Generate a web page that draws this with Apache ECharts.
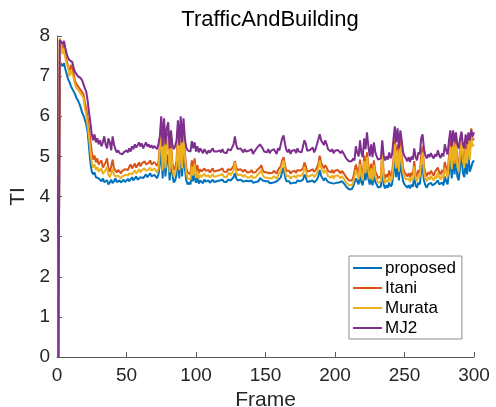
<!DOCTYPE html>
<html>
<head>
<meta charset="utf-8">
<script src="https://cdn.jsdelivr.net/npm/echarts@6/dist/echarts.min.js"></script>
<style>
  html, body { margin: 0; padding: 0; background: #fff; }
  #chart { width: 496px; height: 407px; }
</style>
</head>
<body>
<div id="chart"></div>
<script>
// values per frame, frame 1..300
var proposed = [
  0, 7.35, 7.30, 7.25, 7.32, 7.18, 7.05, 6.92, 6.85, 6.75,
  6.72, 6.62, 6.55, 6.45, 6.40, 6.32, 6.22, 6.10, 6.02, 5.92,
  5.80, 5.62, 5.25, 4.85, 4.62, 4.55, 4.60, 4.48, 4.52, 4.45,
  4.42, 4.38, 4.45, 4.36, 4.32, 4.40, 4.30, 4.35, 4.42, 4.33,
  4.38, 4.45, 4.36, 4.33, 4.40, 4.35, 4.38, 4.42, 4.36, 4.40,
  4.44, 4.38, 4.42, 4.48, 4.40, 4.45, 4.50, 4.42, 4.46, 4.48,
  4.52, 4.46, 4.50, 4.55, 4.48, 4.52, 4.58, 4.50, 4.48, 4.54,
  4.50, 4.46, 4.55, 4.80, 5.20, 4.45, 5.25, 4.50, 4.90, 5.05,
  4.40, 4.85, 4.55, 4.35, 4.40, 4.55, 5.10, 4.45, 5.25, 4.50,
  5.20, 4.70, 4.40, 4.30, 4.35, 4.30, 4.55, 4.38, 4.62, 4.34,
  4.48, 4.32, 4.40, 4.36, 4.33, 4.42, 4.37, 4.35, 4.40, 4.34,
  4.38, 4.42, 4.36, 4.40, 4.38, 4.35, 4.40, 4.38, 4.42, 4.37,
  4.40, 4.36, 4.42, 4.45, 4.40, 4.38, 4.48, 4.58, 4.45, 4.40,
  4.38, 4.42, 4.40, 4.37, 4.41, 4.39, 4.35, 4.38, 4.36, 4.40,
  4.34, 4.38, 4.36, 4.40, 4.38, 4.46, 4.50, 4.40, 4.36, 4.38,
  4.35, 4.38, 4.33, 4.37, 4.34, 4.38, 4.36, 4.32, 4.40, 4.36,
  4.48, 4.62, 4.72, 4.50, 4.38, 4.34, 4.38, 4.32, 4.36, 4.34,
  4.38, 4.34, 4.40, 4.36, 4.38, 4.34, 4.42, 4.55, 4.48, 4.36,
  4.34, 4.38, 4.36, 4.40, 4.35, 4.38, 4.42, 4.50, 4.66, 4.52,
  4.48, 4.40, 4.46, 4.42, 4.36, 4.40, 4.34, 4.38, 4.32, 4.36,
  4.34, 4.38, 4.35, 4.32, 4.38, 4.34, 4.30, 4.25, 4.22, 4.18,
  4.22, 4.18, 4.24, 4.20, 4.45, 4.38, 4.30, 4.56, 4.35, 4.28,
  4.62, 4.40, 4.70, 4.45, 4.30, 4.48, 4.28, 4.55, 4.36, 4.30,
  4.22, 4.18, 4.25, 4.78, 4.30, 4.20, 4.28, 4.22, 4.35, 4.25,
  4.30, 4.55, 5.00, 4.48, 4.85, 4.40, 4.95, 4.60, 4.38, 4.30,
  4.26, 4.22, 4.28, 4.20, 4.30, 4.24, 4.52, 4.28, 4.22, 4.35,
  4.30, 4.62, 4.80, 4.40, 4.28, 4.22, 4.30, 4.26, 4.34, 4.28,
  4.24, 4.32, 4.28, 4.40, 4.30, 4.26, 4.35, 4.28, 4.50, 4.38,
  4.30, 4.62, 4.95, 4.45, 5.05, 4.55, 4.98, 4.50, 4.40, 4.72,
  5.10, 4.60, 4.48, 4.85, 4.55, 5.05, 4.62, 4.58, 4.85, 4.90
];
var itani = [
  0, 7.92, 7.80, 7.62, 7.82, 7.50, 7.38, 7.35, 7.10, 7.28,
  7.20, 7.05, 6.88, 6.80, 6.75, 6.70, 6.72, 6.60, 6.55, 6.35,
  6.20, 5.95, 5.70, 5.40, 5.10, 4.92, 5.02, 4.85, 4.95, 4.80,
  4.78, 4.90, 4.72, 4.68, 4.85, 4.95, 4.70, 4.62, 4.75, 4.92,
  4.70, 4.65, 4.60, 4.66, 4.62, 4.58, 4.64, 4.60, 4.68, 4.72,
  4.66, 4.74, 4.80, 4.70, 4.76, 4.82, 4.72, 4.78, 4.85, 4.75,
  4.82, 4.78, 4.88, 4.80, 4.76, 4.84, 4.90, 4.80, 4.78, 4.86,
  4.82, 4.76, 4.85, 5.30, 5.85, 4.80, 5.75, 4.85, 5.40, 5.60,
  4.75, 5.35, 4.85, 4.65, 4.72, 4.90, 5.60, 4.80, 5.80, 4.85,
  5.70, 5.10, 4.72, 4.60, 4.62, 4.55, 4.90, 4.65, 4.95, 4.60,
  4.78, 4.58, 4.68, 4.62, 4.58, 4.70, 4.64, 4.60, 4.66, 4.60,
  4.64, 4.70, 4.62, 4.66, 4.64, 4.60, 4.66, 4.63, 4.70, 4.62,
  4.66, 4.61, 4.68, 4.72, 4.66, 4.64, 4.76, 4.88, 4.72, 4.66,
  4.63, 4.68, 4.66, 4.62, 4.67, 4.64, 4.60, 4.64, 4.61, 4.66,
  4.59, 4.63, 4.61, 4.66, 4.63, 4.72, 4.78, 4.66, 4.61, 4.64,
  4.60, 4.64, 4.58, 4.62, 4.59, 4.64, 4.61, 4.57, 4.66, 4.62,
  4.76, 4.90, 4.98, 4.78, 4.64, 4.60, 4.64, 4.57, 4.62, 4.60,
  4.64, 4.59, 4.66, 4.62, 4.64, 4.60, 4.70, 4.85, 4.76, 4.62,
  4.60, 4.64, 4.62, 4.68, 4.61, 4.66, 4.72, 4.82, 5.02, 4.84,
  4.80, 4.70, 4.78, 4.72, 4.64, 4.68, 4.60, 4.66, 4.58, 4.64,
  4.60, 4.66, 4.62, 4.58, 4.64, 4.60, 4.54, 4.48, 4.44, 4.40,
  4.44, 4.40, 4.46, 4.42, 4.80, 4.66, 4.55, 4.92, 4.62, 4.52,
  5.02, 4.70, 5.10, 4.76, 4.55, 4.82, 4.52, 4.90, 4.62, 4.55,
  4.46, 4.42, 4.50, 5.20, 4.58, 4.45, 4.55, 4.48, 4.65, 4.50,
  4.58, 4.90, 5.45, 4.85, 5.30, 4.75, 5.40, 5.00, 4.70, 4.60,
  4.55, 4.50, 4.58, 4.48, 4.60, 4.52, 4.88, 4.56, 4.50, 4.66,
  4.60, 5.00, 5.25, 4.75, 4.58, 4.50, 4.60, 4.55, 4.64, 4.58,
  4.52, 4.62, 4.58, 4.72, 4.60, 4.55, 4.66, 4.58, 4.86, 4.70,
  4.60, 5.00, 5.40, 4.80, 5.50, 4.95, 5.42, 4.88, 4.75, 5.15,
  5.55, 5.00, 4.85, 5.30, 4.95, 5.55, 5.05, 5.70, 5.40, 5.45
];
var murata = [
  0, 7.95, 7.75, 7.55, 7.70, 7.45, 7.30, 7.22, 7.00, 7.15,
  7.05, 6.95, 6.78, 6.70, 6.72, 6.62, 6.65, 6.52, 6.45, 6.22,
  6.05, 5.80, 5.50, 5.15, 4.85, 4.72, 4.80, 4.66, 4.74, 4.62,
  4.60, 4.70, 4.56, 4.52, 4.66, 4.74, 4.54, 4.48, 4.58, 4.70,
  4.55, 4.50, 4.46, 4.52, 4.48, 4.45, 4.50, 4.48, 4.54, 4.56,
  4.52, 4.58, 4.62, 4.55, 4.60, 4.65, 4.57, 4.62, 4.68, 4.60,
  4.66, 4.62, 4.70, 4.64, 4.60, 4.67, 4.72, 4.64, 4.62, 4.70,
  4.66, 4.60, 4.68, 5.15, 5.70, 4.65, 5.65, 4.70, 5.25, 5.50,
  4.60, 5.20, 4.70, 4.50, 4.58, 4.75, 5.45, 4.65, 5.70, 4.70,
  5.60, 4.95, 4.58, 4.45, 4.48, 4.42, 4.75, 4.52, 4.82, 4.46,
  4.64, 4.44, 4.54, 4.49, 4.45, 4.57, 4.50, 4.47, 4.53, 4.47,
  4.51, 4.56, 4.49, 4.53, 4.51, 4.47, 4.53, 4.50, 4.56, 4.49,
  4.53, 4.48, 4.55, 4.60, 4.53, 4.51, 4.64, 4.85, 4.60, 4.53,
  4.50, 4.55, 4.53, 4.49, 4.54, 4.51, 4.47, 4.51, 4.48, 4.53,
  4.46, 4.50, 4.48, 4.53, 4.50, 4.60, 4.66, 4.53, 4.48, 4.51,
  4.47, 4.51, 4.45, 4.49, 4.46, 4.51, 4.48, 4.44, 4.53, 4.49,
  4.64, 4.80, 4.90, 4.66, 4.51, 4.47, 4.51, 4.44, 4.49, 4.47,
  4.51, 4.46, 4.53, 4.49, 4.51, 4.47, 4.57, 4.74, 4.64, 4.49,
  4.47, 4.51, 4.49, 4.55, 4.48, 4.53, 4.58, 4.70, 4.90, 4.72,
  4.68, 4.58, 4.66, 4.60, 4.51, 4.55, 4.47, 4.53, 4.45, 4.51,
  4.47, 4.53, 4.49, 4.45, 4.51, 4.47, 4.41, 4.35, 4.32, 4.28,
  4.32, 4.28, 4.34, 4.30, 4.66, 4.54, 4.43, 4.80, 4.50, 4.40,
  4.88, 4.58, 4.98, 4.64, 4.43, 4.70, 4.40, 4.78, 4.50, 4.43,
  4.34, 4.30, 4.38, 5.05, 4.45, 4.33, 4.42, 4.36, 4.52, 4.38,
  4.45, 4.78, 5.30, 4.70, 5.15, 4.62, 5.25, 4.85, 4.58, 4.48,
  4.42, 4.38, 4.45, 4.36, 4.48, 4.40, 4.75, 4.44, 4.38, 4.54,
  4.48, 4.85, 5.10, 4.62, 4.45, 4.38, 4.48, 4.42, 4.52, 4.45,
  4.40, 4.50, 4.45, 4.60, 4.48, 4.42, 4.54, 4.45, 4.72, 4.58,
  4.48, 4.88, 5.25, 4.68, 5.38, 4.82, 5.30, 4.75, 4.62, 5.02,
  5.40, 4.88, 4.72, 5.18, 4.82, 5.42, 4.92, 5.50, 5.25, 5.30
];
var mj2 = [
  0, 7.90, 7.85, 7.80, 7.88, 7.70, 7.55, 7.45, 7.40, 7.42,
  7.35, 7.20, 7.10, 7.05, 7.00, 6.98, 6.95, 6.90, 6.80, 6.70,
  6.62, 6.40, 6.10, 5.85, 5.55, 5.40, 5.55, 5.35, 5.45, 5.30,
  5.40, 5.25, 5.35, 5.50, 5.30, 5.20, 5.45, 5.35, 5.15, 5.50,
  5.30, 5.18, 5.10, 5.15, 5.08, 5.12, 5.05, 5.10, 5.08, 5.15,
  5.10, 5.20, 5.12, 5.25, 5.18, 5.30, 5.22, 5.28, 5.35, 5.25,
  5.32, 5.20, 5.28, 5.35, 5.25, 5.30, 5.22, 5.28, 5.20, 5.26,
  5.30, 5.18, 5.32, 5.50, 6.00, 5.25, 5.95, 5.30, 5.70, 5.85,
  5.20, 5.65, 5.30, 5.18, 5.25, 5.40, 5.90, 5.28, 6.00, 5.35,
  5.95, 5.45, 5.22, 5.15, 5.18, 5.12, 5.38, 5.20, 5.35, 5.12,
  5.25, 5.10, 5.20, 5.14, 5.08, 5.18, 5.12, 5.06, 5.15, 5.10,
  5.14, 5.20, 5.12, 5.16, 5.12, 5.08, 5.15, 5.10, 5.18, 5.10,
  5.14, 5.08, 5.18, 5.22, 5.15, 5.12, 5.30, 5.50, 5.28, 5.18,
  5.15, 5.20, 5.16, 5.10, 5.18, 5.12, 5.08, 5.14, 5.10, 5.18,
  5.06, 5.12, 5.10, 5.22, 5.18, 5.30, 5.34, 5.20, 5.12, 5.16,
  5.10, 5.18, 5.08, 5.14, 5.10, 5.18, 5.12, 5.06, 5.20, 5.15,
  5.30, 5.45, 5.52, 5.32, 5.16, 5.10, 5.18, 5.06, 5.14, 5.10,
  5.16, 5.08, 5.20, 5.12, 5.16, 5.10, 5.25, 5.40, 5.32, 5.14,
  5.10, 5.16, 5.12, 5.22, 5.10, 5.18, 5.30, 5.42, 5.55, 5.40,
  5.35, 5.28, 5.40, 5.30, 5.18, 5.22, 5.12, 5.18, 5.08, 5.14,
  5.10, 5.16, 5.12, 5.08, 5.14, 5.10, 5.02, 4.95, 4.92, 4.88,
  4.92, 4.88, 4.95, 4.90, 5.25, 5.10, 5.00, 5.40, 5.08, 4.98,
  5.45, 5.18, 5.60, 5.25, 5.00, 5.30, 4.98, 5.35, 5.10, 5.00,
  4.92, 4.88, 4.95, 5.40, 5.02, 4.90, 5.00, 4.92, 5.10, 4.95,
  5.05, 5.40, 5.75, 5.35, 5.70, 5.20, 5.65, 5.40, 5.10, 5.00,
  4.95, 4.88, 4.98, 4.86, 5.00, 4.92, 5.20, 4.98, 4.90, 5.10,
  5.05, 5.45, 5.55, 5.20, 5.02, 4.95, 5.05, 4.98, 5.08, 5.00,
  4.95, 5.05, 5.00, 5.15, 5.02, 4.96, 5.08, 5.00, 5.30, 5.15,
  5.05, 5.40, 5.65, 5.25, 5.65, 5.35, 5.60, 5.30, 5.20, 5.45,
  5.62, 5.30, 5.20, 5.55, 5.30, 5.60, 5.40, 5.65, 5.50, 5.60
];
var seriesNames = ['proposed', 'Itani', 'Murata', 'MJ2'];
var seriesColors = ['#0072BD', '#D95319', '#EDB120', '#7E2F8E'];
var seriesValues = [proposed, itani, murata, mj2];

function toPoints(arr) {
  return arr.map(function (v, i) { return [i + 1, v]; });
}

var font = 'Liberation Sans, Arial, sans-serif';
var axisColor = '#262626';
var lineGray = '#5a5a5a';

var chart = echarts.init(document.getElementById('chart'));
chart.setOption({
  animation: false,
  title: {
    text: 'TrafficAndBuilding',
    left: 265,
    textAlign: 'center',
    top: 4,
    textStyle: { fontFamily: font, fontSize: 22, fontWeight: 'normal', color: '#000' }
  },
  grid: { left: 57, right: 22, top: 36, bottom: 50, outerBoundsMode: 'none', containLabel: false },
  legend: {
    orient: 'vertical',
    left: 349,
    top: 256,
    itemWidth: 29,
    itemHeight: 2,
    itemGap: 0,
    padding: [2, 6, 1, 4],
    borderColor: '#8c8c8c',
    borderWidth: 1,
    borderRadius: 0,
    backgroundColor: '#fff',
    icon: 'rect',
    textStyle: { fontFamily: font, fontSize: 17, lineHeight: 20, color: '#000', padding: [0, 0, 0, -2] },
    data: seriesNames
  },
  xAxis: {
    type: 'value',
    min: 0,
    max: 300,
    interval: 50,
    name: 'Frame',
    nameLocation: 'middle',
    nameGap: 32,
    nameTextStyle: { fontFamily: font, fontSize: 21, color: axisColor },
    axisLine: { lineStyle: { color: lineGray, width: 1 } },
    axisTick: { inside: true, length: 5, lineStyle: { color: lineGray } },
    axisLabel: { fontFamily: font, fontSize: 19, color: axisColor, margin: 9 },
    splitLine: { show: false }
  },
  yAxis: {
    type: 'value',
    min: 0,
    max: 8,
    interval: 1,
    name: 'TI',
    nameLocation: 'middle',
    nameGap: 26,
    nameTextStyle: { fontFamily: font, fontSize: 21, color: axisColor },
    axisLine: { show: true, lineStyle: { color: lineGray, width: 1 } },
    axisTick: { show: true, inside: true, length: 5, lineStyle: { color: lineGray } },
    axisLabel: { fontFamily: font, fontSize: 19, color: axisColor, margin: 7 },
    splitLine: { show: false }
  },
  series: seriesNames.map(function (name, k) {
    return {
      name: name,
      type: 'line',
      showSymbol: false,
      symbol: 'none',
      color: seriesColors[k],
      lineStyle: { width: 2, color: seriesColors[k] },
      data: toPoints(seriesValues[k])
    };
  })
});
</script>
</body>
</html>
